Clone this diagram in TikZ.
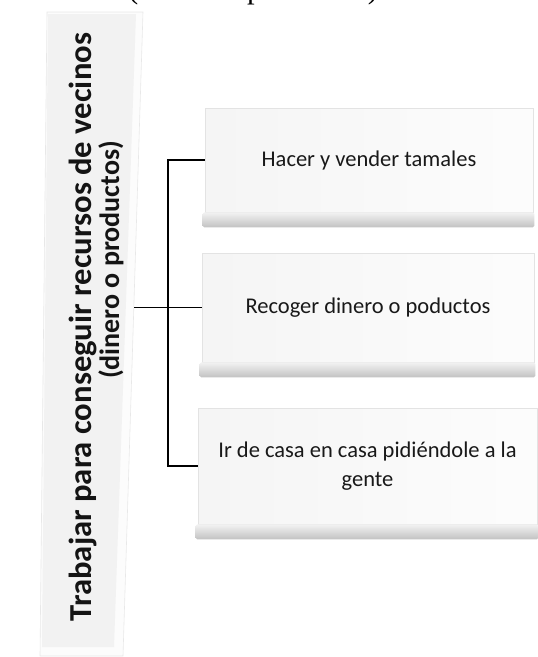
\documentclass[tikz,border=0pt]{standalone}
\usepackage{fontspec}
\setmainfont{Carlito}
\newfontfamily\timesfont{Liberation Serif}
\usetikzlibrary{calc}
\begin{document}
\begin{tikzpicture}[x=1pt,y=-1pt,
  itembox/.style={rectangle, inner sep=0pt, draw=gray!22, line width=0.7pt,
    left color=gray!8, right color=gray!2, font=\fontsize{22.5}{29}\selectfont,
    align=center, text=black!90},
  band/.style={top color=gray!10, bottom color=gray!48, draw=none, rounded corners=1.5pt},
  conn/.style={draw=black, line width=1.6pt},
  vtext/.style={rotate=90, font=\bfseries, inner sep=0pt, text=black!92}
]
\useasboundingbox (0,0) rectangle (538,657);
% clipped heading remnant
\begin{scope}
\clip (0,0) rectangle (538,657);
\node[anchor=base west, inner sep=0pt, font=\timesfont\fontsize{30.6}{36}\selectfont] (head) at (128,-1.5) {(dinero o productos)};
\end{scope}
% left box
\node[rectangle, inner sep=0pt, minimum width=93pt, minimum height=644pt] (L) at (87.5,334) {};
\filldraw[fill=gray!2, draw=gray!18, line width=0.6pt] (47,12) -- (143,12) -- (123,656) -- (40,656) -- cycle;
\fill[gray!10] (48,14) -- (136,14) -- (114,647) -- (42,647) -- cycle;
\node[vtext] (t1) at (83,327) {\fontsize{32}{38}\bfseries\selectfont\scalebox{1.02}[1]{Trabajar para conseguir recursos de vecinos}};
\node[vtext] (t2) at (111,260) {\fontsize{28}{34}\bfseries\selectfont (dinero o productos)};
% right boxes
\node[itembox, minimum width=328pt, minimum height=104pt] (b1) at (369,160) {Hacer y vender tamales};
\node[itembox, minimum width=332pt, minimum height=109pt] (b2) at (368,307.5) {Recoger dinero o poductos};
\node[itembox, minimum width=339pt, minimum height=116pt] (b3) at (367.5,466) {Ir de casa en casa pidiéndole a la\\gente};
\foreach \b in {b1,b2,b3}{
  \path[band] ($(\b.south west)+(-2,0)$) rectangle ($(\b.south east)+(1,15)$);
}
% connectors
\coordinate (sp) at (168,0);
\draw[conn] (L.east |- b2.west) -- (b2.west);
\draw[conn] (b1.west) -- (b1.west -| sp) -- (b3.west -| sp) -- (b3.west);
\end{tikzpicture}
\end{document}
